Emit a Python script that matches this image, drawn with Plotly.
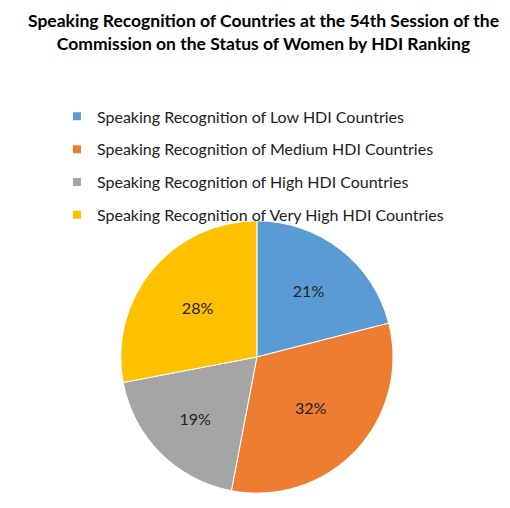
import plotly.graph_objects as go

# speaking recognition share by HDI group (percent)
labels = [
    "Speaking Recognition of Low HDI Countries",
    "Speaking Recognition of Medium HDI Countries",
    "Speaking Recognition of High HDI Countries",
    "Speaking Recognition of Very High HDI Countries",
]
shares = [21, 32, 19, 28]
colors = ["#5B9BD5", "#ED7D31", "#A5A5A5", "#FFC000"]

title = ("Speaking Recognition of Countries at the 54th Session of the<br>"
         "Commission on the Status of Women by HDI Ranking")

fig = go.Figure()

fig.add_trace(go.Pie(
    labels=labels,
    values=shares,
    marker=dict(colors=colors, line=dict(color="white", width=1)),
    sort=False,
    direction="clockwise",
    textinfo="percent",
    textposition="inside",
    insidetextfont=dict(color="#222222", size=16, family="Lato"),
    showlegend=False,
    domain=dict(x=[0.221, 0.755], y=[0.045, 0.581]),
    hoverinfo="label+percent",
))

# legend entries (square swatches) with a gap between rows like the original
for i, (name, c) in enumerate(zip(labels, colors)):
    fig.add_trace(go.Scatter(
        x=[None], y=[None], mode="markers", name=name,
        marker=dict(symbol="square", size=8, color=c),
        legendgroup=f"g{i}",
    ))

fig.add_annotation(
    text=title,
    xref="paper", yref="paper",
    x=0.5, xanchor="center",
    y=1.0, yanchor="top",
    showarrow=False,
    align="center",
    font=dict(family="Lato", size=17.5, color="black", weight="bold"),
)

fig.update_layout(
    width=510,
    height=508,
    margin=dict(l=0, r=0, t=0, b=0),
    paper_bgcolor="white",
    plot_bgcolor="white",
    legend=dict(
        x=0.096, xanchor="left",
        y=0.82, yanchor="top",
        font=dict(family="Lato", size=16, color="#222222"),
        tracegroupgap=9,
        bgcolor="rgba(0,0,0,0)",
        itemclick=False,
    ),
    xaxis=dict(visible=False),
    yaxis=dict(visible=False),
)

fig.write_html("out.html")
